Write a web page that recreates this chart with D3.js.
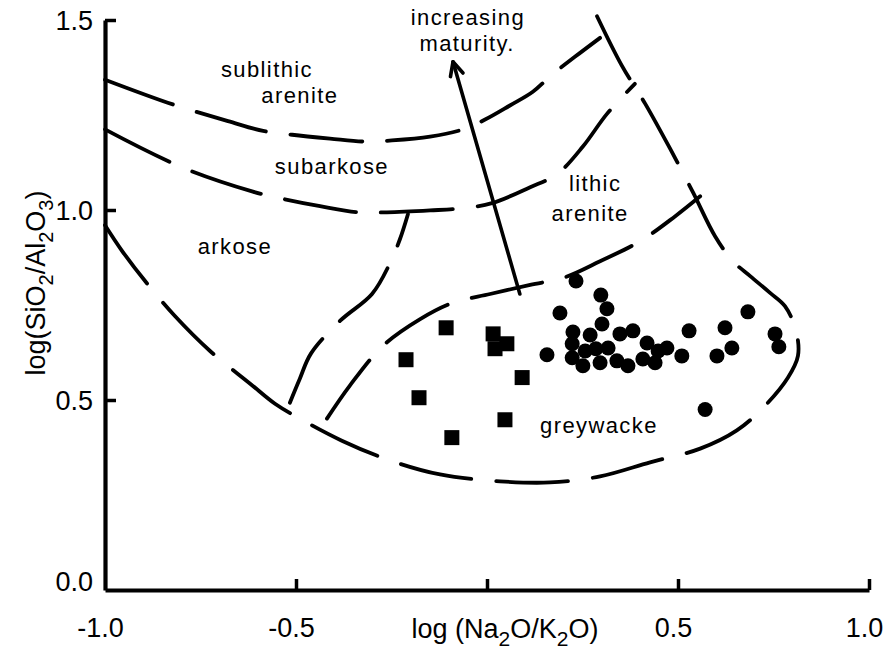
<!DOCTYPE html>
<html>
<head>
<meta charset="utf-8">
<script src="https://cdn.jsdelivr.net/npm/d3@7"></script>
<style>
  body { margin: 0; background: #fff; }
  svg { display: block; }
  .tick-label { font-family: "Liberation Sans Narrow", "Liberation Sans", sans-serif; font-size: 27px; fill: #000; }
  .field-label { font-family: "Liberation Sans", Arial, sans-serif; font-size: 22px; letter-spacing: 1.4px; fill: #000; }
  .axis-title { font-family: "Liberation Sans", Arial, sans-serif; font-size: 27px; fill: #000; }
</style>
</head>
<body>
<svg id="chart" width="891" height="666"></svg>
<script>
// Axis ticks and their labels
const xTicks = [-1, -0.5, 0, 0.5, 1];
const xTickLabels = ["-1.0", "-0.5", "", "0.5", "1.0"];
const yTicks = [0, 0.5, 1, 1.5];
const yTickLabels = ["0.0", "0.5", "1.0", "1.5"];

// Samples as [log(Na2O/K2O), log(SiO2/Al2O3)]
const squareSamples = [
  [-0.212, 0.606], [-0.178, 0.506], [-0.107, 0.690], [-0.092, 0.401],
  [0.016, 0.674], [0.052, 0.648], [0.021, 0.635], [0.047, 0.448], [0.092, 0.559]
];
const circleSamples = [
  [0.233, 0.813], [0.298, 0.776], [0.314, 0.740], [0.191, 0.729], [0.301, 0.700],
  [0.225, 0.679], [0.270, 0.671], [0.382, 0.682], [0.348, 0.674], [0.157, 0.619],
  [0.223, 0.648], [0.223, 0.611], [0.257, 0.629], [0.285, 0.635], [0.317, 0.637],
  [0.340, 0.603], [0.369, 0.590], [0.419, 0.650], [0.408, 0.608], [0.448, 0.629],
  [0.471, 0.637], [0.440, 0.598], [0.510, 0.616], [0.529, 0.682], [0.623, 0.690],
  [0.602, 0.616], [0.641, 0.637], [0.683, 0.732], [0.754, 0.674], [0.764, 0.640],
  [0.571, 0.475], [0.251, 0.590], [0.296, 0.598]
];

// Field boundaries (dashed)
const sublithicBoundary = [
  [-1.000, 1.343], [-0.817, 1.276], [-0.678, 1.234], [-0.586, 1.208], [-0.510, 1.198],
  [-0.411, 1.188], [-0.319, 1.180], [-0.249, 1.183], [-0.149, 1.193], [-0.063, 1.212],
  [-0.005, 1.238], [0.060, 1.275], [0.120, 1.311], [0.170, 1.356], [0.230, 1.403], [0.296, 1.453]
];
const subarkoseBoundary = [
  [-1.000, 1.212], [-0.798, 1.112], [-0.615, 1.049], [-0.542, 1.031], [-0.437, 1.010],
  [-0.340, 0.994], [-0.262, 0.994], [-0.149, 0.999], [-0.071, 1.004], [0.013, 1.018],
  [0.113, 1.060], [0.183, 1.094], [0.251, 1.167], [0.314, 1.253], [0.387, 1.332]
];
const outerBoundary = [
  [-1.000, 0.960], [-0.955, 0.892], [-0.895, 0.813], [-0.817, 0.721], [-0.725, 0.629],
  [-0.620, 0.543], [-0.555, 0.490], [-0.490, 0.451], [-0.380, 0.393], [-0.254, 0.341],
  [-0.123, 0.304], [0.034, 0.286], [0.165, 0.283], [0.296, 0.299], [0.427, 0.336],
  [0.558, 0.372], [0.654, 0.420], [0.728, 0.485], [0.788, 0.559], [0.814, 0.616],
  [0.809, 0.682], [0.780, 0.747], [0.741, 0.782], [0.689, 0.826], [0.644, 0.865],
  [0.597, 0.931], [0.540, 1.045], [0.479, 1.162], [0.414, 1.280], [0.353, 1.380], [0.288, 1.510]
];
const lithicLeftBoundary = [
  [-0.516, 0.493], [-0.490, 0.556], [-0.461, 0.622], [-0.385, 0.708], [-0.301, 0.779],
  [-0.254, 0.860], [-0.228, 0.923], [-0.207, 0.989]
];
const greywackeUpperBoundary = [
  [-0.419, 0.451], [-0.359, 0.538], [-0.272, 0.643], [-0.175, 0.713], [-0.092, 0.755],
  [0.008, 0.779], [0.113, 0.803], [0.204, 0.823], [0.296, 0.865], [0.401, 0.918],
  [0.492, 0.983], [0.558, 1.036]
];
const maturityArrow = [[0.086, 0.779], [-0.089, 1.390]];

const fieldLabels = [
  { text: "sublithic", x: -0.576, y: 1.350 },
  { text: "arenite", x: -0.490, y: 1.282 },
  { text: "subarkose", x: -0.406, y: 1.094 },
  { text: "arkose", x: -0.660, y: 0.884 },
  { text: "lithic", x: 0.283, y: 1.049 },
  { text: "arenite", x: 0.270, y: 0.970 },
  { text: "greywacke", x: 0.293, y: 0.412 },
  { text: "increasing", x: -0.050, y: 1.488 },
  { text: "maturity.", x: -0.052, y: 1.418 }
];

const svg = d3.select("#chart");
const x = d3.scaleLinear().domain([-1, 1]).range([105, 869]);
const y = d3.scaleLinear().domain([0, 1.5]).range([590, 20]);

// Dashed boundary curves
const line = d3.line().x(d => x(d[0])).y(d => y(d[1])).curve(d3.curveCatmullRom.alpha(0.5));
const boundaries = [sublithicBoundary, subarkoseBoundary, outerBoundary, lithicLeftBoundary, greywackeUpperBoundary];
svg.append("g").selectAll("path").data(boundaries).join("path")
  .attr("d", line)
  .attr("fill", "none")
  .attr("stroke", "#000")
  .attr("stroke-width", 3.8)
  .attr("stroke-linecap", "round")
  .attr("stroke-dasharray", "72,25");

// Arrow of increasing maturity
const [a0, a1] = maturityArrow;
const ax0 = x(a0[0]), ay0 = y(a0[1]), ax1 = x(a1[0]), ay1 = y(a1[1]);
const ang = Math.atan2(ay1 - ay0, ax1 - ax0);
const head = 15, spread = 0.45;
const arrow = svg.append("g").attr("stroke", "#000").attr("fill", "none")
  .attr("stroke-width", 3.6).attr("stroke-linecap", "round").attr("stroke-linejoin", "round");
arrow.append("line").attr("x1", ax0).attr("y1", ay0).attr("x2", ax1).attr("y2", ay1);
arrow.append("path").attr("d", d3.line()([
  [ax1 - head * Math.cos(ang - spread), ay1 - head * Math.sin(ang - spread)],
  [ax1, ay1],
  [ax1 - head * Math.cos(ang + spread), ay1 - head * Math.sin(ang + spread)]
]));

// Samples
svg.append("g").selectAll("circle").data(circleSamples).join("circle")
  .attr("cx", d => x(d[0])).attr("cy", d => y(d[1])).attr("r", 7.5).attr("fill", "#000");
const sq = 15;
svg.append("g").selectAll("rect").data(squareSamples).join("rect")
  .attr("x", d => x(d[0]) - sq / 2).attr("y", d => y(d[1]) - sq / 2)
  .attr("width", sq).attr("height", sq).attr("fill", "#000");

// Axes
const xAxis = svg.append("g").attr("transform", `translate(0,${y(0)})`)
  .call(d3.axisBottom(x).tickValues(xTicks).tickSizeInner(-11).tickSizeOuter(0).tickFormat((d, i) => xTickLabels[i]));
const yAxis = svg.append("g").attr("transform", `translate(${x(-1)},0)`)
  .call(d3.axisLeft(y).tickValues(yTicks).tickSizeInner(-11).tickSizeOuter(0).tickFormat((d, i) => yTickLabels[i]));
[xAxis, yAxis].forEach(g => {
  g.select(".domain").attr("stroke", "#000").attr("stroke-width", 4.2);
  g.selectAll(".tick line").attr("stroke", "#000").attr("stroke-width", 3.5);
  g.selectAll(".tick text").attr("class", "tick-label").attr("font-family", null).attr("font-size", null);
});
xAxis.selectAll(".tick text").attr("y", 28).attr("dx", "-5px").attr("dy", "0.71em").attr("text-anchor", "middle");
yAxis.selectAll(".tick text").attr("x", -12).attr("dy", "0.34em");
yAxis.selectAll(".tick").filter(d => d === 0).select("text").attr("dy", "0");
xAxis.selectAll(".tick").filter(d => d === -1).select("line").remove();
yAxis.selectAll(".tick").filter(d => d === 0).select("line").remove();

// Field labels
svg.append("g").selectAll("text").data(fieldLabels).join("text")
  .attr("class", "field-label")
  .attr("x", d => x(d.x)).attr("y", d => y(d.y))
  .attr("text-anchor", "middle")
  .text(d => d.text);

// Axis titles with subscripts
const xTitle = svg.append("text").attr("class", "axis-title")
  .attr("x", 505).attr("y", 638).attr("text-anchor", "middle");
xTitle.append("tspan").text("log (Na");
xTitle.append("tspan").attr("dy", 8).attr("font-size", 21).text("2");
xTitle.append("tspan").attr("dy", -8).text("O/K");
xTitle.append("tspan").attr("dy", 8).attr("font-size", 21).text("2");
xTitle.append("tspan").attr("dy", -8).text("O)");

const yTitle = svg.append("text").attr("class", "axis-title")
  .attr("transform", "translate(45,283) rotate(-90)").attr("text-anchor", "middle");
yTitle.append("tspan").text("log(SiO");
yTitle.append("tspan").attr("dy", 8).attr("font-size", 20).text("2");
yTitle.append("tspan").attr("dy", -8).text("/Al");
yTitle.append("tspan").attr("dy", 8).attr("font-size", 20).text("2");
yTitle.append("tspan").attr("dy", -8).text("O");
yTitle.append("tspan").attr("dy", 8).attr("font-size", 20).text("3");
yTitle.append("tspan").attr("dy", -8).text(")");
</script>
</body>
</html>
